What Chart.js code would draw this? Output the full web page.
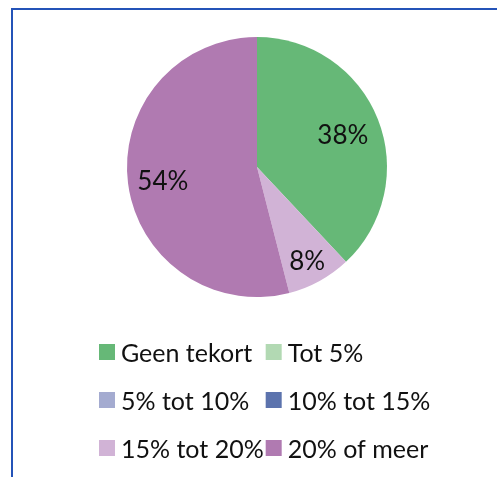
<!DOCTYPE html>
<html>
<head>
<meta charset="utf-8">
<script src="https://cdn.jsdelivr.net/npm/chart.js@4/dist/chart.umd.min.js"></script>
<style>
  html, body { margin: 0; padding: 0; background: #ffffff; }
  #wrap { position: relative; width: 497px; height: 477px; overflow: hidden; }
  #frame {
    position: absolute; left: 11px; top: 8px; width: 600px; height: 600px;
    border-top: 2px solid #2453b8; border-left: 2px solid #2453b8;
  }
  canvas { position: absolute; left: 0; top: 0; }
</style>
</head>
<body>
<div id="wrap">
  <div id="frame"></div>
  <canvas id="pie" width="497" height="477"></canvas>
</div>
<script>
const categories = ["Geen tekort", "Tot 5%", "5% tot 10%", "10% tot 15%", "15% tot 20%", "20% of meer"];
const shares = [38, 0, 0, 0, 8, 54];
const sliceColors = ["#66b877", "#b2d9b3", "#a4abd0", "#5c73ad", "#d1b3d6", "#b07ab1"];
// how far out each percentage label sits (fraction of radius)
const labelDistance = [0.71, 0.75, 0.75, 0.75, 0.80, 0.73];

const FONT = "Lato";
const LABEL_SIZE = 26;
const LEGEND_SIZE = 25;

const sliceLabels = {
  id: "sliceLabels",
  afterDatasetsDraw(chart) {
    const ctx = chart.ctx;
    const meta = chart.getDatasetMeta(0);
    ctx.save();
    ctx.font = LABEL_SIZE + "px " + FONT;
    ctx.fillStyle = "#111111";
    ctx.textAlign = "center";
    ctx.textBaseline = "middle";
    meta.data.forEach((arc, i) => {
      const v = shares[i];
      if (!v) return;
      const p = arc.getProps(["x", "y", "startAngle", "endAngle", "outerRadius"], true);
      const mid = (p.startAngle + p.endAngle) / 2;
      const r = p.outerRadius * labelDistance[i];
      ctx.fillText(v + "%", p.x + Math.cos(mid) * r, p.y + Math.sin(mid) * r + 3);
    });
    ctx.restore();
  }
};

// legend as a 2-column grid under the pie
const gridLegend = {
  id: "gridLegend",
  afterDraw(chart) {
    const ctx = chart.ctx;
    ctx.save();
    ctx.font = LEGEND_SIZE + "px " + FONT;
    ctx.textBaseline = "middle";
    ctx.textAlign = "left";
    const box = 16, gap = 6, colGap = 2;
    const startX = 99, startY = 352, rowH = 48;
    let col1W = 0;
    categories.forEach((c, i) => {
      if (i % 2 === 0) col1W = Math.max(col1W, ctx.measureText(c).width);
    });
    const col2X = startX + box + gap + col1W + colGap;
    categories.forEach((c, i) => {
      const x = i % 2 === 0 ? startX : col2X;
      const y = startY + Math.floor(i / 2) * rowH;
      ctx.fillStyle = sliceColors[i];
      ctx.fillRect(x, y - box / 2, box, box);
      ctx.fillStyle = "#111111";
      ctx.fillText(c, x + box + gap, y + 2);
    });
    ctx.restore();
  }
};

new Chart(document.getElementById("pie"), {
  type: "pie",
  data: {
    labels: categories,
    datasets: [{
      data: shares,
      backgroundColor: sliceColors,
      borderWidth: 0
    }]
  },
  options: {
    responsive: false,
    animation: false,
    layout: { padding: { top: 37, bottom: 180, left: 127, right: 110 } },
    plugins: {
      legend: { display: false },
      tooltip: { enabled: false }
    }
  },
  plugins: [sliceLabels, gridLegend]
});
</script>
</body>
</html>
